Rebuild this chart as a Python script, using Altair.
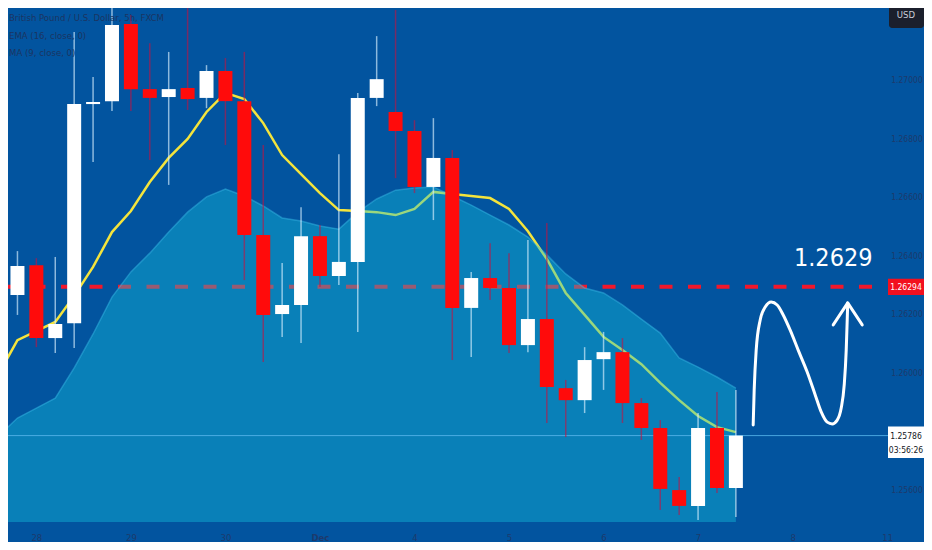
import json
import altair as alt
import pandas as pd

# ---------------- data ----------------
candle_idx = list(range(1, 40))
opens = [1.26266, 1.26368, 1.26119, 1.26170, 1.26918, 1.26928, 1.27191, 1.26969, 1.26942, 1.26973,
         1.26939, 1.27031, 1.26928, 1.26471, 1.26201, 1.26232, 1.26467, 1.26331, 1.26379, 1.26939,
         1.26891, 1.26826, 1.26635, 1.26734, 1.26222, 1.26324, 1.26290, 1.26095, 1.26184, 1.25948,
         1.25907, 1.26047, 1.26071, 1.25897, 1.25812, 1.25600, 1.25546, 1.25812, 1.25607]
highs = [1.26416, 1.26392, 1.26396, 1.27164, 1.27010, 1.27273, 1.27222, 1.27126, 1.27096, 1.27263,
         1.27051, 1.27075, 1.27096, 1.26778, 1.26375, 1.26566, 1.26505, 1.26747, 1.26956, 1.27150,
         1.27239, 1.26863, 1.26870, 1.26761, 1.26345, 1.26443, 1.26409, 1.26454, 1.26512, 1.25976,
         1.26088, 1.26140, 1.26119, 1.25914, 1.25839, 1.25645, 1.25863, 1.25935, 1.25942]
lows = [1.26198, 1.26088, 1.26068, 1.26085, 1.26720, 1.26894, 1.26894, 1.26727, 1.26642, 1.26898,
        1.26904, 1.26778, 1.26317, 1.26037, 1.26123, 1.26102, 1.26293, 1.26300, 1.26140, 1.26911,
        1.26665, 1.26614, 1.26522, 1.26044, 1.26054, 1.26249, 1.26068, 1.26071, 1.25829, 1.25781,
        1.25863, 1.25942, 1.25829, 1.25771, 1.25532, 1.25515, 1.25498, 1.25590, 1.25508]
closes = [1.26365, 1.26119, 1.26167, 1.26918, 1.26925, 1.27188, 1.26969, 1.26939, 1.26969, 1.26935,
          1.27031, 1.26928, 1.26471, 1.26198, 1.26232, 1.26467, 1.26331, 1.26379, 1.26939, 1.27003,
          1.26826, 1.26635, 1.26734, 1.26222, 1.26324, 1.26290, 1.26095, 1.26184, 1.25952, 1.25907,
          1.26044, 1.26071, 1.25897, 1.25812, 1.25604, 1.25546, 1.25812, 1.25607, 1.25786]

line_idx = list(range(0, 40))
ema16 = [1.25996, 1.26112, 1.26143, 1.26174, 1.26263, 1.26362, 1.26481, 1.26553, 1.26652, 1.26734,
         1.26799, 1.26891, 1.26956, 1.26935, 1.26853, 1.26744, 1.26679, 1.26614, 1.26556, 1.26553,
         1.26549, 1.26539, 1.26560, 1.26618, 1.26611, 1.26604, 1.26597, 1.26560, 1.26484, 1.26389,
         1.26273, 1.26198, 1.26123, 1.26078, 1.26030, 1.25966, 1.25907, 1.25853, 1.25815, 1.25798]
ma9_band = [1.25785, 1.25846, 1.25880, 1.25914, 1.26017, 1.26133, 1.26259, 1.26345, 1.26409, 1.26481,
            1.26549, 1.26601, 1.26628, 1.26604, 1.26570, 1.26529, 1.26519, 1.26502, 1.26491, 1.26549,
            1.26594, 1.26624, 1.26631, 1.26635, 1.26604, 1.26573, 1.26539, 1.26505, 1.26464, 1.26403,
            1.26338, 1.26290, 1.26273, 1.26232, 1.26184, 1.26136, 1.26051, 1.26020, 1.25986, 1.25948]

date_ticks = [2, 7, 12, 17, 22, 27, 32, 37, 42, 47]
date_labels = ["28", "29", "30", "Dec", "4", "5", "6", "7", "8", "11"]
price_ticks = [1.27, 1.268, 1.266, 1.264, 1.262, 1.26, 1.256]

target_price = 1.26294
last_price = 1.25786
countdown = "03:56:26"
currency = "USD"
big_label = "1.2629"
big_label_pos = [44.15, 1.26392]

curve_x = [39.915, 39.968, 40.074, 40.286, 40.550, 40.868, 41.185, 41.503, 41.873, 42.296, 42.772,
           43.196, 43.513, 43.831, 44.095, 44.360, 44.571, 44.730, 44.836, 44.889, 44.915]
curve_y = [1.25822, 1.25942, 1.26078, 1.26181, 1.26225, 1.26242, 1.26232, 1.26198, 1.26146, 1.26078,
           1.26003, 1.25925, 1.25867, 1.25832, 1.25826, 1.25839, 1.25880, 1.25959, 1.26078, 1.26181,
           1.26239]
arrow_x = [44.148, 44.915, 45.683]
arrow_y = [1.26164, 1.26239, 1.26164]

legend_lines = ["British Pound / U.S. Dollar, 5h, FXCM", "EMA (16, close, 0)", "MA (9, close, 0)"]

# ---------------- styling ----------------
W, H = 916, 514
BG = "#02549f"
NARROW = "Liberation Sans Narrow, DejaVu Sans Condensed, Roboto, sans-serif"
DARK_TXT = "#1d3a6c"

xs = alt.Scale(domain=[0.5, 48.95], nice=False, zero=False, padding=0)
ys = alt.Scale(domain=[1.25491, 1.27246], nice=False, zero=False, padding=0)

label_expr = json.dumps(date_labels) + "[round((datum.value - 2) / 5)]"
xaxis = alt.Axis(values=date_ticks, labelExpr=label_expr, domain=False, ticks=False, tickSize=0,
                 grid=False, labelPadding=15, labelBaseline="middle", labelColor=DARK_TXT,
                 labelFontSize=9.5, labelFont=NARROW, title=None, labelFlush=False,
                 labelOverlap=False,
                 labelFontWeight={"condition": {"test": "datum.value == 17", "value": "bold"},
                                  "value": "normal"})


def X(f):
    return alt.X(f, type="quantitative", scale=xs, axis=xaxis)


def Y(f):
    return alt.Y(f, type="quantitative", scale=ys, axis=None)


df_c = pd.DataFrame({"i": candle_idx, "o": opens, "h": highs, "l": lows, "c": closes})
df_l = pd.DataFrame({"i": line_idx, "ema": ema16, "band": ma9_band})
df_curve = pd.DataFrame({"x": curve_x, "y": curve_y, "k": list(range(len(curve_x)))})
df_arrow = pd.DataFrame({"x": arrow_x, "y": arrow_y, "k": list(range(len(arrow_x)))})
df_target = pd.DataFrame({"p": [target_price]})
df_last = pd.DataFrame({"p": [last_price], "t": [countdown]})
df_ticks = pd.DataFrame({"p": price_ticks})
df_big = pd.DataFrame({"x": [big_label_pos[0]], "y": [big_label_pos[1]], "t": [big_label]})
df_one = pd.DataFrame({"t": [currency], "legend": ["\n".join(legend_lines)]})

up = "datum.c >= datum.o"

ema_line = alt.Chart(df_l).mark_line(color="#f4e43c", strokeWidth=2.5, clip=True).encode(
    x=X("i"), y=Y("ema"))

target_rule = alt.Chart(df_target).mark_rule(color="#f2172b", strokeWidth=4, strokeDash=[13, 15.5],
                                             strokeDashOffset=4).encode(
    y=Y("p"), x=alt.value(0), x2=alt.value(870))

band_area = alt.Chart(df_l).mark_area(color="#14c4df", opacity=0.4, clip=True).encode(
    x=X("i"), y=Y("band"), y2=alt.value(H))
band_edge = alt.Chart(df_l).mark_line(color="#3cbde8", strokeWidth=1.5, opacity=0.45, clip=True).encode(
    x=X("i"), y=Y("band"))

last_rule = alt.Chart(df_last).mark_rule(color="#55b4ea", strokeWidth=1, opacity=0.85).encode(
    y=Y("p"), x=alt.value(0), x2=alt.value(880))

wicks = alt.Chart(df_c).mark_rule(strokeWidth=1.5).encode(
    x=X("i"), y=Y("l"), y2=alt.Y2("h"),
    color=alt.condition(up, alt.value("#d8f0ff"), alt.value("#c81040")),
    opacity=alt.condition(up, alt.value(0.65), alt.value(0.6)))

bodies = alt.Chart(df_c).mark_bar(size=14).encode(
    x=X("i"), y=Y("o"), y2=alt.Y2("c"),
    color=alt.condition(up, alt.value("#ffffff"), alt.value("#ff0b0b")))

curve = alt.Chart(df_curve).mark_line(color="white", strokeWidth=3, strokeCap="round",
                                      strokeJoin="round", interpolate="monotone").encode(
    x=X("x"), y=Y("y"), order="k:Q")
arrow = alt.Chart(df_arrow).mark_line(color="white", strokeWidth=3, strokeCap="round",
                                      strokeJoin="round").encode(
    x=X("x"), y=Y("y"), order="k:Q")

big_text = alt.Chart(df_big).mark_text(font=NARROW, fontSize=25, color="white", align="center",
                                       baseline="middle", fontWeight=500).encode(
    x=X("x"), y=Y("y"), text="t:N")

price_labels = alt.Chart(df_ticks).mark_text(font=NARROW, fontSize=8.5, color=DARK_TXT, align="center",
                                             baseline="middle").encode(
    x=alt.value(899), y=Y("p"), text=alt.Text("p:Q", format=".5f"))

target_box = alt.Chart(df_target).mark_point(shape="M-1,-0.45H1V0.45H-1Z", size=1296, filled=True,
                                             color="#f2101e", opacity=1).encode(
    x=alt.value(898), y=Y("p"))
target_txt = alt.Chart(df_target).mark_text(font=NARROW, fontSize=8.5, color="white", align="center",
                                            baseline="middle").encode(
    x=alt.value(898), y=Y("p"), text=alt.Text("p:Q", format=".5f"))

last_box = alt.Chart(df_last).mark_point(shape="M-1,-0.5H1V1.25H-1Z", size=1296, filled=True,
                                         color="#ffffff", opacity=1).encode(
    x=alt.value(898), y=Y("p"))
last_txt = alt.Chart(df_last).mark_text(font=NARROW, fontSize=8.5, color="#131722", align="center",
                                        baseline="middle").encode(
    x=alt.value(898), y=Y("p"), text=alt.Text("p:Q", format=".5f"))
last_cd = alt.Chart(df_last).mark_text(font=NARROW, fontSize=8.5, color="#131722", align="center",
                                       baseline="middle", dy=14).encode(
    x=alt.value(898), y=Y("p"), text="t:N")

usd_box = alt.Chart(df_one).mark_rect(color="#1b1f2c", cornerRadius=3).encode(
    x=alt.value(881), x2=alt.value(916), y=alt.value(-6), y2=alt.value(20))
usd_txt = alt.Chart(df_one).mark_text(font=NARROW, fontSize=9.5, color="#c8cdd8", align="center",
                                      baseline="middle").encode(
    x=alt.value(898), y=alt.value(7), text="t:N")

legend = alt.Chart(df_one).mark_text(font=NARROW, fontSize=9.5, color="#1b3462", align="left",
                                     baseline="top", lineBreak="\n", lineHeight=17.5).encode(
    x=alt.value(1), y=alt.value(5), text="legend:N")

chart = alt.layer(
    ema_line, target_rule, band_area, band_edge, last_rule, wicks, bodies,
    curve, arrow, big_text, price_labels, target_box, target_txt,
    last_box, last_txt, last_cd, usd_box, usd_txt, legend
).properties(
    width=W, height=H,
    autosize=alt.AutoSizeParams(type="none"),
    padding={"left": 0, "top": 0, "right": 0, "bottom": 20},
    background=BG,
).configure_view(strokeWidth=0)

chart.save("out.html", embed_options={"renderer": "svg", "actions": False})
